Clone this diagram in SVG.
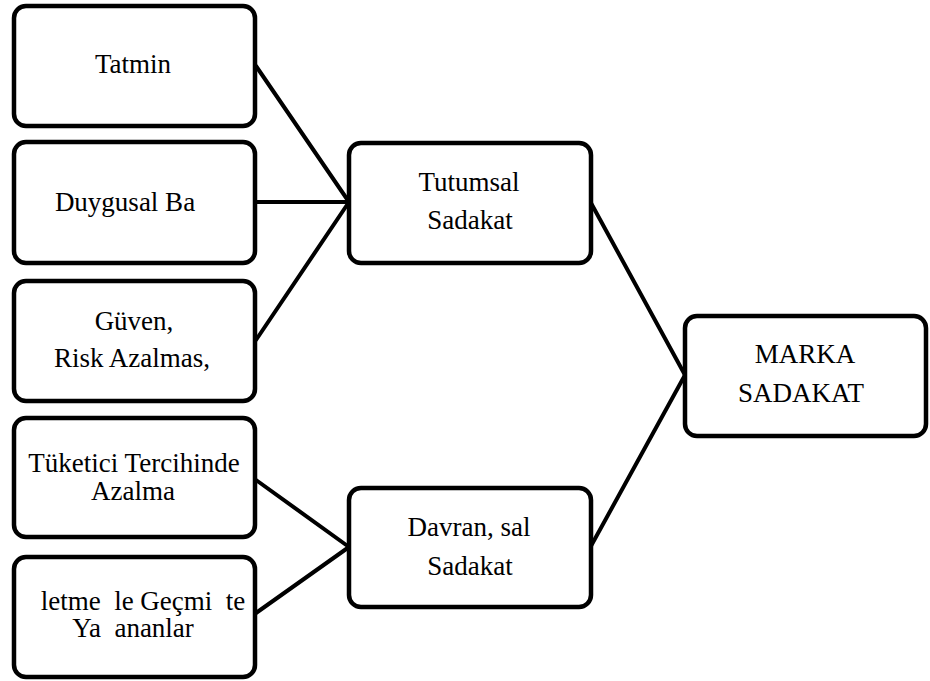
<svg xmlns="http://www.w3.org/2000/svg" width="930" height="681" viewBox="0 0 930 681">
  <style>
    .box { fill: #ffffff; stroke: #000000; stroke-width: 4.5; }
    .link { stroke: #000000; stroke-width: 4; fill: none; stroke-linecap: round; }
    .label { font-family: "Liberation Serif", "Times New Roman", serif; font-size: 27px; fill: #000000; text-anchor: middle; }
  </style>
  <rect width="930" height="681" fill="#ffffff"/>

  <g id="connectors">
    <line class="link" x1="256" y1="66" x2="349" y2="202"/>
    <line class="link" x1="256" y1="202" x2="349" y2="202"/>
    <line class="link" x1="256" y1="340" x2="349" y2="202"/>
    <line class="link" x1="256" y1="480" x2="349" y2="547"/>
    <line class="link" x1="256" y1="613" x2="349" y2="547"/>
    <line class="link" x1="591" y1="203" x2="685" y2="375"/>
    <line class="link" x1="591" y1="546" x2="685" y2="375"/>
  </g>

  <g id="tatmin">
    <rect class="box" x="14" y="6" width="241" height="120" rx="12"/>
    <text class="label" x="133" y="73">Tatmin</text>
  </g>

  <g id="duygusal-bag">
    <rect class="box" x="14" y="142" width="241" height="121" rx="12"/>
    <text class="label" x="125" y="211">Duygusal Ba</text>
  </g>

  <g id="guven">
    <rect class="box" x="14" y="281" width="241" height="120" rx="12"/>
    <text class="label" x="134" y="330">Güven,</text>
    <text class="label" x="132" y="367">Risk Azalmas,</text>
  </g>

  <g id="tuketici-tercihi">
    <rect class="box" x="14" y="418" width="241" height="119" rx="12"/>
    <text class="label" x="134" y="472">Tüketici Tercihinde</text>
    <text class="label" x="133" y="500">Azalma</text>
  </g>

  <g id="isletme-gecmis">
    <rect class="box" x="14" y="557" width="241" height="120" rx="12"/>
    <text class="label" x="143" y="610" xml:space="preserve">letme  le Geçmi  te</text>
    <text class="label" x="133" y="637" xml:space="preserve">Ya  ananlar</text>
  </g>

  <g id="tutumsal-sadakat">
    <rect class="box" x="349" y="143" width="242" height="120" rx="12"/>
    <text class="label" x="469" y="191">Tutumsal</text>
    <text class="label" x="470" y="229">Sadakat</text>
  </g>

  <g id="davranissal-sadakat">
    <rect class="box" x="349" y="488" width="242" height="119" rx="12"/>
    <text class="label" x="469" y="536" xml:space="preserve">Davran, sal</text>
    <text class="label" x="470" y="575">Sadakat</text>
  </g>

  <g id="marka-sadakati">
    <rect class="box" x="685" y="316" width="241" height="120" rx="12"/>
    <text class="label" x="805" y="363">MARKA</text>
    <text class="label" x="801" y="402">SADAKAT</text>
  </g>
</svg>
